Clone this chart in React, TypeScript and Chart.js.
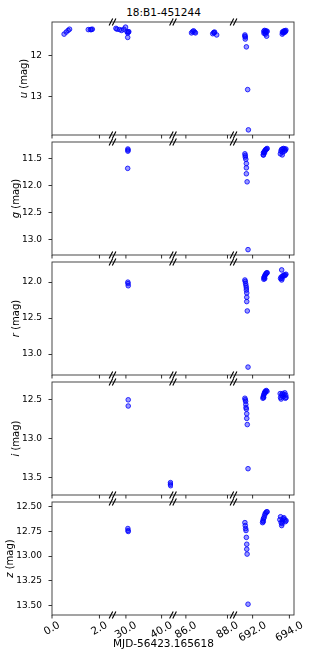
import React, { useEffect, useRef } from "react";
import { Chart, registerables } from "chart.js";
Chart.register(...registerables);

const TITLE = "18:B1-451244";
const X_LABEL = "MJD-56423.165618";
const bands = ["u", "g", "r", "i", "z"];

// broken x-axis segments (MJD offset)
const segMin = [0, 26.24, 85.38, 690.96];
const segMax = [2.55, 43.2, 88.29, 694.25];
const segTicks = [[0, 2], [30, 40], [86, 88], [692, 694]];

const uTime = [0.51, 0.60, 0.68, 0.74, 1.53, 1.62, 1.66, 1.70,
  27.2, 27.5, 28.25, 28.8, 29.4, 29.9, 30.3, 30.5, 30.7, 30.8, 30.5,
  86.27, 86.32, 86.37, 86.42, 86.46, 87.29, 87.34, 87.36, 87.38, 87.48,
  691.58, 691.58, 691.60, 691.60, 691.66, 691.73, 691.77,
  692.61, 692.62, 692.65, 692.68, 692.69, 692.70, 692.72, 692.76, 692.76, 692.79,
  693.61, 693.62, 693.65, 693.68, 693.70, 693.73, 693.76, 693.78, 693.81];
const uMag = [11.47, 11.42, 11.38, 11.35, 11.36, 11.36, 11.36, 11.35,
  11.33, 11.35, 11.36, 11.38, 11.35, 11.30, 11.41, 11.44, 11.42, 11.41, 11.55,
  11.44, 11.41, 11.39, 11.42, 11.44, 11.46, 11.43, 11.44, 11.42, 11.49,
  11.49, 11.52, 11.54, 11.59, 11.78, 12.82, 13.80,
  11.40, 11.45, 11.38, 11.44, 11.41, 11.47, 11.39, 11.42, 11.52, 11.40,
  11.47, 11.42, 11.44, 11.40, 11.43, 11.39, 11.42, 11.40, 11.38];

const gTime = [30.55, 30.60, 30.55, 30.50,
  691.58, 691.60, 691.60, 691.63, 691.66, 691.66, 691.66, 691.70, 691.75,
  692.58, 692.59, 692.59, 692.62, 692.65, 692.65, 692.69, 692.72, 692.76, 692.79,
  693.51, 693.54, 693.57, 693.61, 693.62, 693.62, 693.68, 693.73, 693.73, 693.78, 693.81];
const gMag = [11.32, 11.34, 11.36, 11.68,
  11.41, 11.44, 11.47, 11.51, 11.59, 11.67, 11.78, 11.93, 13.19,
  11.43, 11.39, 11.43, 11.38, 11.36, 11.39, 11.34, 11.33, 11.32, 11.31,
  11.41, 11.36, 11.33, 11.43, 11.32, 11.38, 11.31, 11.32, 11.36, 11.34, 11.32];

const rTime = [30.55, 30.60, 30.65,
  691.58, 691.60, 691.62, 691.64, 691.66, 691.66, 691.68, 691.68, 691.68, 691.71, 691.75,
  692.61, 692.62, 692.63, 692.65, 692.66, 692.68, 692.71, 692.74, 692.77, 692.79,
  693.52, 693.55, 693.58, 693.58, 693.60, 693.62, 693.66, 693.70, 693.74, 693.78, 693.81];
const rMag = [12.00, 12.02, 12.05,
  11.97, 11.99, 12.02, 12.05, 12.08, 12.11, 12.15, 12.21, 12.27, 12.40, 13.18,
  11.96, 11.94, 11.93, 11.92, 11.95, 11.90, 11.89, 11.88, 11.87, 11.87,
  11.95, 11.93, 11.97, 11.83, 11.95, 11.92, 11.91, 11.90, 11.91, 11.90, 11.89];

const iTime = [30.65, 30.65, 42.50, 42.50, 42.55,
  691.58, 691.60, 691.62, 691.63, 691.64, 691.66, 691.68, 691.68, 691.71, 691.75,
  692.56, 692.58, 692.60, 692.60, 692.63, 692.66, 692.68, 692.70, 692.74, 692.78,
  693.50, 693.52, 693.55, 693.58, 693.62, 693.66, 693.70, 693.75, 693.78, 693.80, 693.82];
const iMag = [12.50, 12.58, 13.57, 13.59, 13.61,
  12.48, 12.50, 12.52, 12.56, 12.60, 12.62, 12.68, 12.74, 12.82, 13.39,
  12.48, 12.46, 12.44, 12.47, 12.42, 12.40, 12.41, 12.39, 12.38, 12.39,
  12.42, 12.47, 12.49, 12.44, 12.42, 12.46, 12.43, 12.41, 12.48, 12.44, 12.47];

const zTime = [30.55, 30.60, 30.65,
  691.58, 691.60, 691.62, 691.64, 691.66, 691.68, 691.68, 691.70, 691.75,
  692.54, 692.56, 692.58, 692.59, 692.62, 692.65, 692.68, 692.72, 692.76, 692.79,
  693.48, 693.52, 693.55, 693.58, 693.60, 693.62, 693.66, 693.70, 693.75, 693.78, 693.82];
const zMag = [12.72, 12.74, 12.75,
  12.66, 12.69, 12.72, 12.74, 12.81, 12.88, 12.93, 12.98, 13.49,
  12.66, 12.64, 12.65, 12.62, 12.61, 12.59, 12.57, 12.56, 12.55, 12.55,
  12.63, 12.60, 12.66, 12.69, 12.67, 12.64, 12.62, 12.61, 12.63, 12.65, 12.64];

const yMin = [11.175, 11.19, 11.72, 12.27, 12.45];
const yMax = [13.925, 13.29, 13.29, 13.73, 13.60];
const uTicks = [12, 13];
const gTicks = [11.5, 12.0, 12.5, 13.0];
const rTicks = [12.0, 12.5, 13.0];
const iTicks = [12.5, 13.0, 13.5];
const zTicks = [12.5, 12.75, 13.0, 13.25, 13.5];
const yDecimals = [0, 1, 1, 1, 2];

const TIMES = [uTime, gTime, rTime, iTime, zTime];
const MAGS = [uMag, gMag, rMag, iMag, zMag];
const YTICKS = [uTicks, gTicks, rTicks, iTicks, zTicks];

// layout
const W = 327;
const BOX_TOPS = [22, 142, 262, 382, 502];
const BOX_H = 113;
const PAD = 16;
const LAST_PAD_BOTTOM = 40;
const FONT = "'DejaVu Sans', sans-serif";
const Y_TICK_FONT = 9;
const X_TICK_FONT = 10.5;
const Y_TICK_PAD = 6.5;

function Panel({ idx }: { idx: number }) {
  const ref = useRef<HTMLCanvasElement | null>(null);
  const isLast = idx === bands.length - 1;
  const padBottom = isLast ? LAST_PAD_BOTTOM : PAD;
  const H = BOX_H + PAD + padBottom;

  useEffect(() => {
    if (!ref.current) return;
    const times = TIMES[idx];
    const mags = MAGS[idx];
    const ticks = YTICKS[idx];
    const dec = yDecimals[idx];
    const fmt = (v: number) => Number(v).toFixed(dec);

    const datasets = segMin.map((lo, s) => ({
      data: times
        .map((t, k) => ({ x: t, y: mags[k] }))
        .filter((p) => p.x >= lo && p.x <= segMax[s]),
      xAxisID: "x" + s,
      yAxisID: "y",
      pointRadius: 2.3,
      pointBorderWidth: 1,
      pointBackgroundColor: "rgba(0,0,255,0.4)",
      pointBorderColor: "rgba(0,0,255,0.8)",
      showLine: false,
    }));

    const scales: any = {
      y: {
        type: "linear",
        position: "left",
        reverse: true,
        min: yMin[idx],
        max: yMax[idx],
        afterBuildTicks: (sc: any) => {
          sc.ticks = ticks.map((v) => ({ value: v }));
        },
        afterFit: (sc: any) => {
          sc.width = 52;
        },
        ticks: {
          font: { family: FONT, size: Y_TICK_FONT },
          color: "#000",
          padding: Y_TICK_PAD,
          callback: (v: any) => fmt(v),
        },
        grid: {
          drawOnChartArea: false,
          drawTicks: true,
          tickLength: 3.5,
          color: "#000",
          lineWidth: 0.8,
        },
        border: { display: false },
      },
    };
    segMin.forEach((lo, s) => {
      scales["x" + s] = {
        type: "linear",
        position: "bottom",
        stack: "xs",
        stackWeight: 1,
        min: lo,
        max: segMax[s],
        ticks: { display: false },
        grid: { display: false },
        border: { display: false },
        afterFit: (sc: any) => {
          sc.height = 0;
        },
      };
    });

    const deco = {
      id: "deco",
      afterDraw(chart: any) {
        const { ctx, chartArea: a } = chart;
        ctx.save();
        // frame
        ctx.strokeStyle = "#333";
        ctx.lineWidth = 0.9;
        ctx.strokeRect(a.left, a.top, a.right - a.left, a.bottom - a.top);
        // x ticks
        ctx.strokeStyle = "#000";
        ctx.lineWidth = 0.8;
        segTicks.forEach((ts, s) => {
          const sc = chart.scales["x" + s];
          ts.forEach((v) => {
            const px = sc.getPixelForValue(v);
            ctx.beginPath();
            ctx.moveTo(px, a.bottom);
            ctx.lineTo(px, a.bottom + 3.5);
            ctx.stroke();
          });
        });
        // break marks
        ctx.lineWidth = 1.1;
        ctx.strokeStyle = "#000";
        for (let s = 0; s < segMin.length - 1; s++) {
          const bx = chart.scales["x" + s].right;
          [a.top, a.bottom].forEach((y) => {
            [-1.6, 1.6].forEach((d) => {
              ctx.beginPath();
              ctx.moveTo(bx + d - 1.8, y + 3.5);
              ctx.lineTo(bx + d + 1.8, y - 3.5);
              ctx.stroke();
            });
          });
        }
        // y title
        ctx.font = `${Y_TICK_FONT}px ${FONT}`;
        let maxW = 0;
        ticks.forEach((v) => {
          maxW = Math.max(maxW, ctx.measureText(fmt(v)).width);
        });
        const tx = a.left - 3.5 - Y_TICK_PAD - maxW - 6;
        const ty = (a.top + a.bottom) / 2;
        ctx.translate(tx, ty);
        ctx.rotate(-Math.PI / 2);
        ctx.fillStyle = "#000";
        ctx.textBaseline = "middle";
        ctx.textAlign = "left";
        ctx.font = `italic 10px ${FONT}`;
        const letter = bands[idx];
        const w1 = ctx.measureText(letter).width;
        ctx.font = `10px ${FONT}`;
        const rest = " (mag)";
        const w2 = ctx.measureText(rest).width;
        const start = -(w1 + w2) / 2;
        ctx.font = `italic 10px ${FONT}`;
        ctx.fillText(letter, start, 0);
        ctx.font = `10px ${FONT}`;
        ctx.fillText(rest, start + w1, 0);
        ctx.restore();

        // x tick labels on the last panel
        if (isLast) {
          ctx.save();
          ctx.font = `${X_TICK_FONT}px ${FONT}`;
          ctx.fillStyle = "#000";
          ctx.textAlign = "center";
          ctx.textBaseline = "middle";
          segTicks.forEach((ts, s) => {
            const sc = chart.scales["x" + s];
            ts.forEach((v) => {
              const px = sc.getPixelForValue(v);
              const label = v.toFixed(1);
              const w = ctx.measureText(label).width;
              const hb = w * 0.5 + X_TICK_FONT * 0.75;
              const cy = a.bottom + 5.5 + hb / 2;
              ctx.save();
              ctx.translate(px, cy);
              ctx.rotate(-Math.PI / 6);
              ctx.fillText(label, 0, 0);
              ctx.restore();
            });
          });
          ctx.restore();
        }
      },
    };

    const chart = new Chart(ref.current, {
      type: "scatter",
      data: { datasets } as any,
      options: {
        responsive: false,
        animation: false,
        events: [],
        layout: { padding: { left: 0, right: W - 294, top: PAD, bottom: padBottom } },
        plugins: { legend: { display: false }, tooltip: { enabled: false } },
        scales,
      } as any,
      plugins: [deco],
    });
    return () => chart.destroy();
  }, [idx]);

  return (
    <canvas
      ref={ref}
      width={W}
      height={H}
      style={{ position: "absolute", left: 0, top: BOX_TOPS[idx] - PAD, width: W, height: H }}
    />
  );
}

export default function App() {
  return (
    <div
      style={{
        position: "absolute",
        left: 0,
        top: 0,
        width: W,
        height: 654,
        background: "#fff",
        fontFamily: FONT,
        color: "#000",
      }}
    >
      <div style={{ position: "absolute", left: 0, top: 6, width: W, textAlign: "center", fontSize: 10.5, lineHeight: "12px" }}>
        {TITLE}
      </div>
      {bands.map((b, i) => (
        <Panel key={b} idx={i} />
      ))}
      <div style={{ position: "absolute", left: 0, top: 637, width: W, textAlign: "center", fontSize: 10.5, lineHeight: "12px" }}>
        {X_LABEL}
      </div>
    </div>
  );
}
